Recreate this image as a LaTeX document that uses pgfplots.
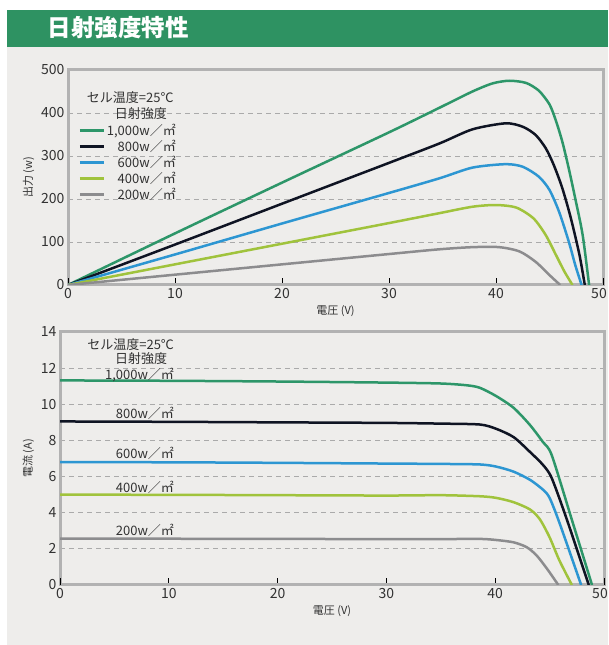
\documentclass[border=0pt]{standalone}
\usepackage{fontspec}
\setmainfont{Noto Sans CJK JP}
\usepackage{pgfplots}
\pgfplotsset{compat=1.18}

\definecolor{bargreen}{RGB}{46,146,98}
\definecolor{bg}{RGB}{238,237,235}
\definecolor{axisgray}{RGB}{178,178,178}
\definecolor{gridgray}{RGB}{170,170,170}
\definecolor{txt}{RGB}{50,50,50}
\definecolor{c1000}{RGB}{45,150,105}
\definecolor{c800}{RGB}{15,20,35}
\definecolor{c600}{RGB}{45,150,210}
\definecolor{c400}{RGB}{160,195,60}
\definecolor{c200}{RGB}{140,140,142}

\pgfplotsset{
  panel/.style={
    scale only axis,
    xmin=0, xmax=50,
    axis line style={draw=axisgray, line width=3pt},
    ymajorgrids,
    major grid style={draw=gridgray, line width=0.8pt, dash pattern=on 5pt off 4pt},
    xtick={10,20,30,40},
    extra x ticks={0,50},
    extra x tick labels={0,{50\hspace*{8pt}}},
    extra x tick style={tick style={draw=none}},
    xtick pos=bottom,
    tick align=inside,
    major tick length=7pt,
    xtick style={draw=black, line width=0.8pt},
    ytick style={draw=none},
    ticklabel style={font=\fontsize{14}{16}\selectfont, text=txt},
    /pgf/number format/assume math mode=true,
    label style={font=\fontsize{11}{13}\selectfont, text=txt},
    every axis plot/.append style={line width=2.5pt, smooth, tension=0.45},
  },
}

\begin{document}
\begin{tikzpicture}
\useasboundingbox (0pt,0pt) rectangle (608pt,645pt);
\fill[white] (0pt,0pt) rectangle (608pt,645pt);
\fill[bg] (7pt,0pt) rectangle (608pt,598pt);
\fill[bargreen] (7pt,598pt) rectangle (608pt,635pt);
\node[anchor=west, text=white, font=\fontsize{23.5}{25}\selectfont\bfseries] at (44pt,617pt) {日射強度特性};

% power curve
\begin{axis}[panel,
  at={(68pt,360pt)}, anchor=south west,
  width=535pt, height=215pt,
  ymin=0, ymax=500, ytick={0,100,...,500},
  xlabel={電圧 (V)}, ylabel={出力 (w)},
  legend style={at={(axis cs:0.95,379)}, anchor=north west, draw=none, fill=none,
    font=\fontsize{13}{14}\selectfont, text=txt, row sep=0.2pt,
    inner sep=0pt, nodes={inner sep=1.5pt}},
  legend cell align=right,
  legend image code/.code={\draw[#1, line width=3pt, sharp plot] (0pt,0pt) -- (24pt,0pt);},
]
\addplot[c1000] coordinates {(0,0) (10,120) (20,238) (30,355) (34.7,412) (37.8,450) (39.7,469) (41.25,475) (42.8,470) (44.0,452) (45.0,420) (45.6,382) (46.2,333) (46.8,271) (47.4,202) (48.1,116) (48.7,0)};
\addlegendentry{1,000w／㎡}
\addplot[c800] coordinates {(0,0) (10,94) (20,189) (30,284) (34.7,329) (37.8,362) (40.9,376) (42.5,368) (43.7,349) (44.65,318) (45.4,279) (46.2,225) (47.0,155) (47.8,70) (48.3,0)};
\addlegendentry{800w／㎡}
\addplot[c600] coordinates {(0,0) (10,71) (20,143) (30,214) (34.7,248) (37.8,273) (40.9,281) (42.5,275) (44.0,252) (45.0,221) (45.9,170) (46.8,101) (47.4,47) (48.0,0)};
\addlegendentry{600w／㎡}
\addplot[c400] coordinates {(0,0) (10,48) (20,96) (30,144) (34.7,167) (37.8,182) (40.0,186) (41.9,180) (43.5,155) (44.65,116) (45.6,70) (46.4,31) (47.15,0)};
\addlegendentry{400w／㎡}
\addplot[c200] coordinates {(0,0) (10,24) (20,48) (30,72) (34.7,83) (37.8,88) (40.3,88) (42.2,78) (43.7,54) (45.0,23) (46.0,0)};
\addlegendentry{200w／㎡}
\node[anchor=east, text=txt, font=\fontsize{13}{14}\selectfont] at (axis cs:10.2,437) {セル温度=25℃};
\node[text=txt, font=\fontsize{13}{14}\selectfont] at (axis cs:6.81,398) {日射強度};
\end{axis}

% current curve
\begin{axis}[panel,
  at={(60pt,60pt)}, anchor=south west,
  width=544pt, height=253pt,
  ymin=0, ymax=14, ytick={0,2,...,14},
  xlabel={電圧 (V)}, ylabel={電流 (A)},
]
\addplot[c1000] coordinates {(0,11.32) (10,11.3) (20,11.26) (30,11.2) (35,11.15) (37.4,11.05) (38.6,10.91) (40.1,10.45) (41.7,9.8) (43.2,8.85) (44.4,7.9) (45.2,7.18) (47.05,3.6) (48.9,0)};
\addplot[c800] coordinates {(0,9.05) (10,9.03) (20,9.0) (30,8.97) (35,8.93) (38.6,8.88) (40.1,8.64) (41.7,8.18) (43.2,7.36) (44.4,6.64) (45.2,5.91) (46.6,3.6) (48.6,0)};
\addplot[c600] coordinates {(0,6.8) (10,6.79) (20,6.76) (30,6.72) (35,6.7) (38.6,6.67) (40.1,6.55) (41.7,6.27) (43.2,5.82) (44.4,5.27) (45.0,4.82) (45.9,3.45) (47.9,0)};
\addplot[c400] coordinates {(0,5.0) (10,4.99) (20,4.97) (30,4.95) (35,4.97) (38.6,4.91) (40.1,4.82) (41.7,4.58) (43.2,4.18) (44.1,3.64) (45.0,2.64) (45.9,1.36) (47.05,0)};
\addplot[c200] coordinates {(0,2.56) (10,2.56) (20,2.55) (30,2.54) (35,2.54) (38.6,2.55) (40.1,2.49) (41.7,2.36) (42.9,2.09) (43.8,1.64) (44.75,0.91) (45.8,0)};
\begin{scope}[every node/.style={text=txt, font=\fontsize{13}{14}\selectfont}]
\node[anchor=east] at (axis cs:10.8,13.33) {セル温度=25℃};
\node at (axis cs:7.45,12.55) {日射強度};
\node[anchor=east] at (axis cs:10.8,11.64) {1,000w／㎡};
\node[anchor=east] at (axis cs:10.8,9.51) {800w／㎡};
\node[anchor=east] at (axis cs:10.8,7.31) {600w／㎡};
\node[anchor=east] at (axis cs:10.8,5.42) {400w／㎡};
\node[anchor=east] at (axis cs:10.8,3.0) {200w／㎡};
\end{scope}
\end{axis}
\end{tikzpicture}
\end{document}
